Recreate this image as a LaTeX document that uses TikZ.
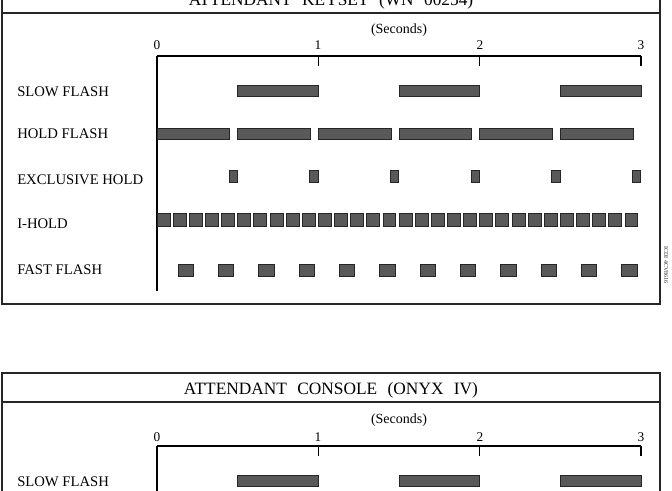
\documentclass[tikz,border=0pt]{standalone}
\usepackage{fontspec}
\setmainfont{Liberation Serif}
\newcommand{\wsp}{\hspace{0.6em}}
\begin{document}
\begin{tikzpicture}[x=0.75pt,y=-0.75pt,
  bar/.style={fill=black!65, draw=black!85, line width=0.5pt},
  frame/.style={line width=1.1pt, draw=black!85},
  axisline/.style={line width=1pt},
  vaxis/.style={line width=0.8pt},
  lbl/.style={anchor=west, font=\fontsize{11}{13}\selectfont, inner sep=0pt},
  ticklbl/.style={font=\fontsize{10}{12}\selectfont, inner sep=0pt},
  seclbl/.style={font=\fontsize{10.5}{12}\selectfont, inner sep=0pt},
  ttl/.style={font=\fontsize{13}{15}\selectfont, inner sep=0pt, anchor=base},
  figid/.style={font=\fontsize{4.5}{5}\selectfont, inner sep=0pt, rotate=-90, text=black!80}]
\useasboundingbox (0,0) rectangle (672,490);
\clip (0,0) rectangle (672,490);
% ---------------- top box ----------------
\draw[frame] (2,-16) rectangle (660,304);
\draw[frame] (2,13) -- (660,13);
\node[ttl] (title1) at (331,5) {ATTENDANT\wsp KEYSET\wsp (WN\wsp 00254)};
\node[seclbl] (sec1) at (399,30) {(Seconds)};
\node[ticklbl] (ta0) at (157,45) {0};
\node[ticklbl] (ta1) at (318,45) {1};
\node[ticklbl] (ta2) at (480,45) {2};
\node[ticklbl] (ta3) at (641,45) {3};
\coordinate (ao) at (157,56);
\coordinate (aend) at (641,56);
\coordinate (abot) at (157,291);
\draw[axisline] (ao) -- (aend);
\draw[vaxis] (ao) -- (abot);
\foreach \t in {1,2,3} {\draw[axisline] ({157+161.33*\t},56) -- ({157+161.33*\t},66);}
\node[lbl] (l1) at (17,92) {SLOW FLASH};
\node[lbl] (l2) at (17,134) {HOLD FLASH};
\node[lbl] (l3) at (17,180) {EXCLUSIVE HOLD};
\node[lbl] (l4) at (17,224) {I-HOLD};
\node[lbl] (l5) at (17,270) {FAST FLASH};
% slow flash
\foreach \s in {0.5,1.5,2.5} {\fill[bar] ({157+161.33*\s},85) rectangle ({157+161.33*(\s+0.5)},96);}
% hold flash
\foreach \k in {0,...,5} {\fill[bar] ({157+161.33*(0.5*\k)},128) rectangle ({157+161.33*(0.5*\k+0.45)},139);}
% exclusive hold
\foreach \k in {0,...,5} {\fill[bar] ({157+161.33*(0.5*\k+0.447)},170) rectangle ({157+161.33*(0.5*\k+0.497)},182);}
% I-hold
\foreach \k in {0,...,29} {\fill[bar] ({157+161.33*(0.1*\k)},213) rectangle ({157+161.33*(0.1*\k+0.08)},226);}
% fast flash
\foreach \k in {0,...,11} {\fill[bar] ({157+161.33*(0.25*\k+0.13)},264) rectangle ({157+161.33*(0.25*\k+0.225)},276);}
\node[figid] (fid) at (666,265) {ICDI 4CV8616};
% ---------------- bottom box ----------------
\draw[frame] (2,500) -- (2,373) -- (660,373) -- (660,500);
\draw[frame] (2,402) -- (660,402);
\node[ttl] (title2) at (331,394) {ATTENDANT\wsp CONSOLE\wsp (ONYX\wsp IV)};
\node[seclbl] (sec2) at (399,420) {(Seconds)};
\node[ticklbl] (tb0) at (157,437) {0};
\node[ticklbl] (tb1) at (318,437) {1};
\node[ticklbl] (tb2) at (480,437) {2};
\node[ticklbl] (tb3) at (641,437) {3};
\coordinate (bo) at (157,446);
\coordinate (bend) at (641,446);
\coordinate (bbot) at (157,500);
\draw[axisline] (bo) -- (bend);
\draw[vaxis] (bo) -- (bbot);
\foreach \t in {1,2,3} {\draw[axisline] ({157+161.33*\t},446) -- ({157+161.33*\t},456);}
\node[lbl] (m1) at (17,482) {SLOW FLASH};
\foreach \s in {0.5,1.5,2.5} {\fill[bar] ({157+161.33*\s},475) rectangle ({157+161.33*(\s+0.5)},486);}
\end{tikzpicture}
\end{document}
